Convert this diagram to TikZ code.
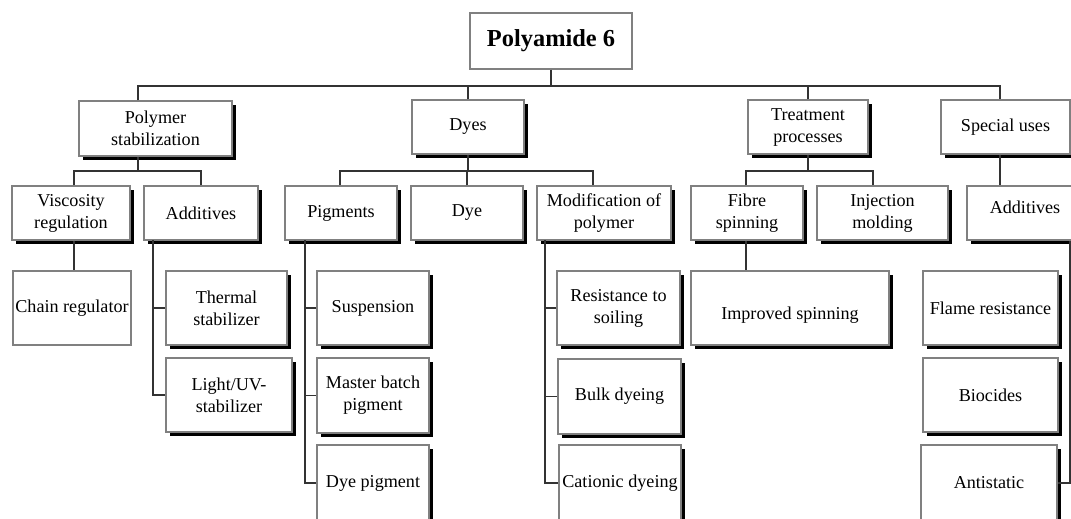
\documentclass[tikz,border=0pt]{standalone}
\usepackage{fontspec}
\setmainfont{Liberation Serif}
\usetikzlibrary{shadows}

% \chartbox{style}{name}{x1}{y1}{x2}{y2}{text}: box given by its corners
\newcommand\chartbox[7]{%
  \pgfmathsetmacro\bw{(#5-#3)*0.75}%
  \pgfmathsetmacro\bh{(#6-#4)*0.75}%
  \node[#1, minimum width=\bw pt, minimum height=\bh pt] (#2)
    at ({(#3+#5)/2},{(#4+#6)/2}) {#7};%
}

\tikzset{
  boxbase/.style={draw=black!50, line width=0.8pt, fill=white, align=center,
    inner sep=1pt, font=\fontsize{13.6}{16.5}\selectfont},
  shbox/.style={boxbase,
    general shadow={fill=black, shadow xshift=2.8pt, shadow yshift=-3pt}},
  flatbox/.style={boxbase},
  rootbox/.style={boxbase, font=\fontsize{18.3}{22}\selectfont\bfseries},
  wire/.style={draw=black!80, line width=0.8pt},
}

\begin{document}
\begin{tikzpicture}[x=0.75pt,y=-0.75pt]
\useasboundingbox (0,0) rectangle (1071,518);
\clip (0,0) rectangle (1071,518);

% top
\chartbox{rootbox}{root}{470}{13}{632}{69}{Polyamide 6}

% first level
\chartbox{shbox}{ps}{79}{101}{232}{156}{Polymer\\stabilization}
\chartbox{shbox}{dy}{412}{100}{524}{154}{Dyes}
\chartbox{shbox}{tp}{748}{100}{868}{154}{Treatment\\processes}
\chartbox{shbox}{su}{941}{100}{1070}{154}{Special uses}

% second level
\chartbox{shbox}{vr}{12}{186}{130}{240}{Viscosity\\regulation}
\chartbox{shbox}{ad}{144}{186}{258}{240}{Additives}
\chartbox{shbox}{pg}{285}{186}{397}{240}{Pigments}
\chartbox{shbox}{dye}{411}{186}{523}{240}{Dye}
\chartbox{shbox}{mp}{537}{186}{671}{240}{Modification of\\polymer}
\chartbox{shbox}{fs}{691}{186}{803}{240}{Fibre\\spinning}
\chartbox{shbox}{im}{817}{186}{948}{240}{Injection\\molding}
\chartbox{shbox}{ad2}{967}{186}{1083}{240}{\rule[-9pt]{0pt}{1pt}Additives}

% third level
\chartbox{flatbox}{cr}{13}{271}{131}{345}{Chain regulator}
\chartbox{shbox}{ts}{166}{271}{287}{345}{Thermal\\stabilizer}
\chartbox{shbox}{lu}{166}{358}{292}{432}{Light/UV-\\stabilizer}
\chartbox{shbox}{sp}{317}{271}{429}{345}{Suspension}
\chartbox{shbox}{mb}{317}{358}{429}{433}{Master batch\\pigment}
\chartbox{shbox}{dp}{317}{445}{429}{521}{Dye pigment}
\chartbox{shbox}{rs}{557}{271}{680}{345}{Resistance to\\soiling}
\chartbox{shbox}{bd}{558}{359}{681}{434}{Bulk dyeing}
\chartbox{shbox}{cd}{559}{445}{681}{521}{Cationic dyeing}
\chartbox{shbox}{is}{691}{271}{889}{345}{\rule{0pt}{20pt}Improved spinning}
\chartbox{shbox}{fr}{923}{271}{1058}{345}{Flame resistance}
\chartbox{shbox}{bc}{923}{358}{1058}{432}{Biocides}
\chartbox{shbox}{an}{921}{445}{1057}{521}{Antistatic}

% main bus
\coordinate (b1) at (138,86);
\coordinate (b2) at (1000,86);
\draw[wire] (root.south) -- (root.south |- b1);
\draw[wire] (b1 |- ps.north) -- (b1) -- (b2) -- (b2 |- su.north);
\draw[wire] (dy.north) -- (dy.north |- b1);
\draw[wire] (tp.north) -- (tp.north |- b1);

% polymer stabilization
\coordinate (p1) at (74,171);
\coordinate (p2) at (201,171);
\draw[wire] (b1 |- ps.south) -- (b1 |- p1);
\draw[wire] (p1 |- vr.north) -- (p1) -- (p2) -- (ad.north);
\draw[wire] (p1 |- vr.south) -- (p1 |- cr.north);
\coordinate (a1) at (153,240);
\draw[wire] (a1) |- (ts.west);
\draw[wire] (a1) |- (lu.west);

% dyes
\coordinate (d1) at (340,171);
\coordinate (d2) at (593,171);
\draw[wire] (dy.south) -- (dy.south |- d1);
\draw[wire] (d1 |- pg.north) -- (d1) -- (d2) -- (d2 |- mp.north);
\draw[wire] (dye.north) -- (dye.north |- d1);
\coordinate (g1) at (305,240);
\draw[wire] (g1) |- (sp.west);
\draw[wire] (g1) |- (mb.west);
\draw[wire] (g1) |- (dp.west);
\coordinate (m1) at (545,240);
\draw[wire] (m1) |- (rs.west);
\draw[wire] (m1) |- (bd.west);
\draw[wire] (m1) |- (cd.west);

% treatment processes
\coordinate (t1) at (746,171);
\coordinate (t2) at (873,171);
\draw[wire] (tp.south) -- (tp.south |- t1);
\draw[wire] (t1 |- fs.north) -- (t1) -- (t2) -- (t2 |- im.north);
\draw[wire] (t1 |- fs.south) -- (t1 |- is.north);

% special uses
\draw[wire] (b2 |- su.south) -- (b2 |- ad2.north);
\coordinate (s1) at (1070,241);
\draw[wire] (s1) |- (an.east);
\end{tikzpicture}
\end{document}
